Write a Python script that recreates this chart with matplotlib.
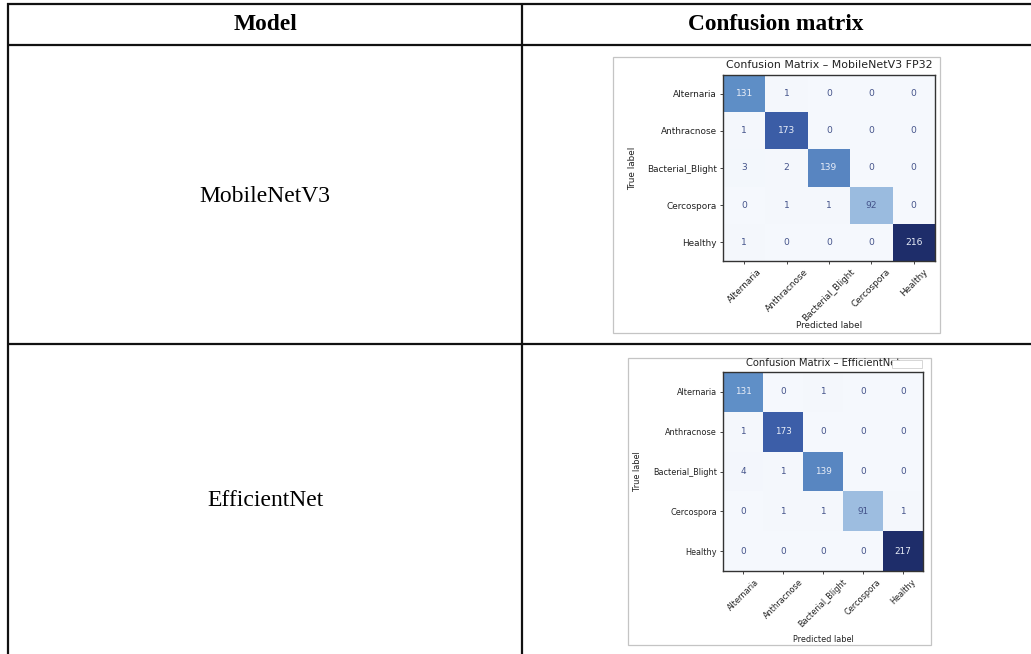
import numpy as np
import matplotlib
matplotlib.use("Agg")
import matplotlib.pyplot as plt
from matplotlib.lines import Line2D
from matplotlib.patches import Rectangle
from matplotlib.colors import LinearSegmentedColormap

W, H = 1031, 654

classes = ["Alternaria", "Anthracnose", "Bacterial_Blight", "Cercospora", "Healthy"]
models = ["MobileNetV3", "EfficientNet"]
titles = ["Confusion Matrix – MobileNetV3 FP32", "Confusion Matrix – EfficientNet"]

cm_mobilenet = np.array([
    [131, 1, 0, 0, 0],
    [1, 173, 0, 0, 0],
    [3, 2, 139, 0, 0],
    [0, 1, 1, 92, 0],
    [1, 0, 0, 0, 216],
])
cm_efficientnet = np.array([
    [131, 0, 1, 0, 0],
    [1, 173, 0, 0, 0],
    [4, 1, 139, 0, 0],
    [0, 1, 1, 91, 1],
    [0, 0, 0, 0, 217],
])

# soft blue ramp used for the cell shading
blues_soft = LinearSegmentedColormap.from_list(
    "blues_soft",
    [(0.0, "#f5f8fd"), (0.2, "#dde8f5"), (0.42, "#9dbde0"), (0.6, "#6090c8"),
     (0.8, "#3c5ea8"), (1.0, "#1e2d6a")],
)

fig = plt.figure(figsize=(W / 100, H / 100), dpi=100)
fig.patch.set_facecolor("white")


def fx(x):
    return x / W


def fy(y):
    return 1 - y / H


def hline(y, x0, x1, lw=1.6):
    fig.add_artist(Line2D([fx(x0), fx(x1)], [fy(y), fy(y)], color="#111111",
                          lw=lw, transform=fig.transFigure, solid_capstyle="butt"))


def vline(x, y0, y1, lw=1.6):
    fig.add_artist(Line2D([fx(x), fx(x)], [fy(y0), fy(y1)], color="#111111",
                          lw=lw, transform=fig.transFigure, solid_capstyle="butt"))


# table grid
hline(4, 7, W)
hline(44.5, 7, W)
hline(344, 7, W)
vline(8, 3, H)
vline(521.5, 3, H)

serif = ["Liberation Serif", "DejaVu Serif"]
fig.text(fx(265), fy(24), "Model", family=serif, weight="bold", fontsize=16.8,
         ha="center", va="center")
fig.text(fx(776), fy(24), "Confusion matrix", family=serif, weight="bold", fontsize=16.8,
         ha="center", va="center")
fig.text(fx(265), fy(196), models[0], family=serif, fontsize=17, ha="center", va="center")
fig.text(fx(265), fy(500), models[1], family=serif, fontsize=17, ha="center", va="center")


def draw_cm(cm, title, box, axrect, fs_tick, fs_title, fs_num, ylab_x, xlab_y, title_y):
    bx0, by0, bx1, by1 = box
    fig.add_artist(Rectangle((fx(bx0), fy(by1)), fx(bx1) - fx(bx0), fy(by0) - fy(by1),
                             transform=fig.transFigure, facecolor="white",
                             edgecolor="#c4c4c4", lw=0.9, zorder=0))
    x0, y0, x1, y1 = axrect
    ax = fig.add_axes([fx(x0), fy(y1), fx(x1) - fx(x0), fy(y0) - fy(y1)])
    vmax = cm.max()
    ax.imshow(cm, cmap=blues_soft, aspect="auto", vmin=0, vmax=vmax, interpolation="nearest")
    thresh = vmax / 2.0
    for i in range(cm.shape[0]):
        for j in range(cm.shape[1]):
            v = cm[i, j]
            color = "#e9eef8" if v > thresh else "#44538a"
            ax.text(j, i, str(v), ha="center", va="center", color=color,
                    fontsize=fs_num)
    ax.set_xticks(range(len(classes)))
    ax.set_yticks(range(len(classes)))
    ax.set_xticklabels(classes, rotation=45, ha="center", fontsize=fs_tick, color="#222222")
    ax.set_yticklabels(classes, fontsize=fs_tick, color="#222222")
    ax.tick_params(length=2.5, width=0.7, pad=2, colors="#444444")
    for lab in ax.get_xticklabels() + ax.get_yticklabels():
        lab.set_color("#222222")
    for s in ax.spines.values():
        s.set_linewidth(1.0)
        s.set_color("#333333")
    fig.text(fx((x0 + x1) / 2), fy(title_y), title, fontsize=fs_title, ha="center",
             va="center", color="#222222")
    fig.text(fx(ylab_x), fy((y0 + y1) / 2), "True label", fontsize=fs_tick, rotation=90,
             ha="center", va="center", color="#222222")
    fig.text(fx((x0 + x1) / 2), fy(xlab_y), "Predicted label", fontsize=fs_tick,
             ha="center", va="center", color="#222222")
    return ax


draw_cm(cm_mobilenet, titles[0], (613, 57, 940, 333), (723, 75, 935, 261),
        fs_tick=6.4, fs_title=7.9, fs_num=6.6, ylab_x=633, xlab_y=325, title_y=65)
draw_cm(cm_efficientnet, titles[1], (628, 358, 931, 645), (723, 372, 923, 571),
        fs_tick=5.9, fs_title=7.2, fs_num=6.4, ylab_x=638, xlab_y=640, title_y=363)

# blank tab after the second title
fig.add_artist(Rectangle((fx(892), fy(368)), fx(30), fy(360) - fy(368),
                         transform=fig.transFigure, facecolor="white",
                         edgecolor="#d0d0d0", lw=0.6, zorder=5))

fig.savefig("out.png", dpi=100, facecolor="white")
